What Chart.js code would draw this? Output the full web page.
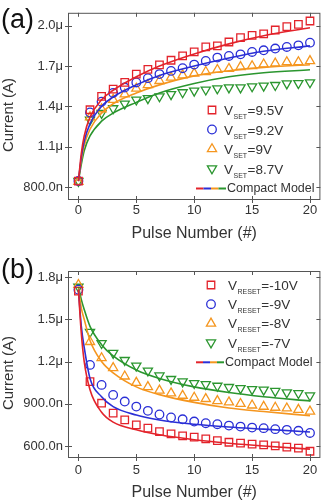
<!DOCTYPE html>
<html>
<head>
<meta charset="utf-8">
<script src="https://cdn.jsdelivr.net/npm/chart.js@4/dist/chart.umd.min.js"></script>
<style>
html, body { margin: 0; padding: 0; background: #fff; }
.panel { position: absolute; left: 0; width: 327px; }
#pa { top: 0; height: 250px; }
#pb { top: 250px; height: 252px; }
</style>
</head>
<body>
<div class="panel" id="pa"><canvas id="ca"></canvas></div>
<div class="panel" id="pb"><canvas id="cb"></canvas></div>
<script>
// pulse index for the measured points
const pulses = [0, 1, 2, 3, 4, 5, 6, 7, 8, 9, 10, 11, 12, 13, 14, 15, 16, 17, 18, 19, 20];
// x positions
const modelX = [0, 0.25, 0.5, 1, 2, 3, 5, 7, 10, 13, 16, 20];

// (a) SET, current in uA
const setLabels = ["=9.5V", "=9.2V", "=9V", "=8.7V"];
const setRed    = [0.845, 1.375, 1.474, 1.528, 1.578, 1.64, 1.676, 1.709, 1.743, 1.775, 1.805, 1.842, 1.85, 1.879, 1.911, 1.928, 1.94, 1.968, 1.993, 2.01, 2.035];
const setBlue   = [0.845, 1.355, 1.435, 1.50, 1.54, 1.578, 1.61, 1.64, 1.664, 1.684, 1.711, 1.738, 1.763, 1.775, 1.787, 1.805, 1.817, 1.83, 1.842, 1.854, 1.874];
const setOrange = [0.84, 1.32, 1.38, 1.45, 1.49, 1.533, 1.56, 1.59, 1.615, 1.632, 1.645, 1.657, 1.672, 1.68, 1.694, 1.70, 1.713, 1.72, 1.73, 1.73, 1.738];
const setGreen  = [0.845, 1.30, 1.35, 1.385, 1.42, 1.45, 1.46, 1.474, 1.49, 1.504, 1.516, 1.524, 1.533, 1.54, 1.54, 1.548, 1.553, 1.558, 1.57, 1.572, 1.578];
const setRedModel    = [0.845, 1.05, 1.18, 1.32, 1.45, 1.52, 1.62, 1.70, 1.79, 1.865, 1.925, 1.985];
const setBlueModel   = [0.845, 1.02, 1.14, 1.27, 1.40, 1.47, 1.56, 1.63, 1.70, 1.76, 1.81, 1.85];
const setOrangeModel = [0.845, 1.0, 1.11, 1.23, 1.35, 1.42, 1.50, 1.56, 1.627, 1.665, 1.69, 1.71];
const setGreenModel  = [0.845, 0.97, 1.07, 1.18, 1.29, 1.35, 1.43, 1.50, 1.57, 1.62, 1.65, 1.672];

// (b) RESET, current in uA
const resetLabels = ["=-10V", "=-9V", "=-8V", "=-7V"];
const resetRed    = [1.70, 1.058, 0.904, 0.833, 0.786, 0.75, 0.727, 0.703, 0.686, 0.672, 0.663, 0.651, 0.639, 0.627, 0.62, 0.613, 0.608, 0.601, 0.592, 0.585, 0.563];
const resetBlue   = [1.71, 1.176, 1.034, 0.963, 0.916, 0.88, 0.85, 0.824, 0.803, 0.79, 0.774, 0.762, 0.755, 0.745, 0.738, 0.731, 0.727, 0.72, 0.715, 0.708, 0.693];
const resetOrange = [1.745, 1.34, 1.225, 1.155, 1.095, 1.05, 1.02, 0.995, 0.975, 0.958, 0.944, 0.935, 0.92, 0.911, 0.90, 0.889, 0.88, 0.873, 0.868, 0.858, 0.846];
const resetGreen  = [1.73, 1.41, 1.33, 1.26, 1.21, 1.17, 1.135, 1.10, 1.075, 1.058, 1.046, 1.039, 1.027, 1.018, 1.01, 1.003, 0.999, 0.99, 0.98, 0.975, 0.958];
const resetRedModel    = [1.71, 1.40, 1.20, 1.00, 0.84, 0.77, 0.715, 0.68, 0.645, 0.62, 0.60, 0.578];
const resetBlueModel   = [1.71, 1.45, 1.30, 1.08, 0.95, 0.88, 0.82, 0.785, 0.755, 0.735, 0.72, 0.70];
const resetOrangeModel = [1.72, 1.58, 1.50, 1.35, 1.20, 1.12, 1.02, 0.965, 0.91, 0.87, 0.845, 0.815];
const resetGreenModel  = [1.73, 1.64, 1.57, 1.45, 1.32, 1.24, 1.14, 1.08, 1.02, 0.98, 0.95, 0.92];

// ticks
const xTicks = [0, 5, 10, 15, 20];
const yTicksA = [0.8, 1.1, 1.4, 1.7, 2.0];
const yTickLabelsA = ["800.0n", "1.1\u03bc", "1.4\u03bc", "1.7\u03bc", "2.0\u03bc"];
const yTicksB = [0.6, 0.9, 1.2, 1.5, 1.8];
const yTickLabelsB = ["600.0n", "900.0n", "1.2\u03bc", "1.5\u03bc", "1.8\u03bc"];

const RED = "#e3232b", BLUE = "#2a2fd6", ORANGE = "#f5961f", GREEN = "#2b962f";
const FONT = "'Liberation Sans', Arial, sans-serif";
const TXT = "#333";

function pts(xs, ys) {
    return xs.map((x, i) => ({ x: x, y: ys[i] }));
}

function markerSet(values, color, style, radius, rotation) {
    return {
        data: pts(pulses, values),
        showLine: false,
        pointStyle: style,
        pointRadius: radius,
        pointRotation: rotation || 0,
        pointBorderColor: color,
        borderColor: color,
        pointBackgroundColor: "rgba(0,0,0,0)",
        pointBorderWidth: 1.3,
    };
}

function modelSet(values, color) {
    return {
        data: pts(modelX, values),
        showLine: true,
        borderColor: color,
        borderWidth: 1.6,
        pointRadius: 0,
        cubicInterpolationMode: "monotone",
        fill: false,
    };
}

// frame, ticks, panel letter, y title and legend with subscripts
const panelDeco = {
    id: "panelDeco",
    afterDraw(chart, args, o) {
        const ctx = chart.ctx;
        const a = chart.chartArea;
        const x = chart.scales.x, y = chart.scales.y;
        ctx.save();
        ctx.strokeStyle = "#555";
        ctx.lineWidth = 1;
        ctx.strokeRect(a.left + 0.5, a.top + 0.5, a.right - a.left - 1, a.bottom - a.top - 1);
        ctx.beginPath();
        x.ticks.forEach(t => {
            const px = Math.round(x.getPixelForValue(t.value)) + 0.5;
            ctx.moveTo(px, a.bottom - 4); ctx.lineTo(px, a.bottom + 3);
            ctx.moveTo(px, a.top); ctx.lineTo(px, a.top + 4);
        });
        y.ticks.forEach(t => {
            const py = Math.round(y.getPixelForValue(t.value)) + 0.5;
            ctx.moveTo(a.left - 3, py); ctx.lineTo(a.left + 4, py);
            ctx.moveTo(a.right - 4, py); ctx.lineTo(a.right, py);
        });
        ctx.stroke();

        // panel letter
        ctx.fillStyle = "#111";
        ctx.font = "27px " + FONT;
        ctx.textBaseline = "middle";
        ctx.textAlign = "left";
        ctx.fillText(o.letter, 1, o.letterY);

        // y title
        ctx.save();
        ctx.translate(9, o.yTitleY);
        ctx.rotate(-Math.PI / 2);
        ctx.textAlign = "center";
        ctx.fillStyle = TXT;
        ctx.font = "15px " + FONT;
        ctx.fillText("Current (A)", 0, 0);
        ctx.restore();

        // legend
        const ds = chart.data.datasets.slice(4);
        ds.forEach((d, i) => {
            const cy = o.legendY0 + i * o.legendStep;
            ctx.strokeStyle = d.borderColor;
            ctx.fillStyle = "rgba(0,0,0,0)";
            ctx.lineWidth = 1.3;
            Chart.helpers.drawPoint(ctx, {
                pointStyle: d.pointStyle, radius: d.pointRadius,
                rotation: d.pointRotation, borderWidth: 1.3
            }, o.legendX, cy);
            ctx.fillStyle = TXT;
            ctx.textBaseline = "alphabetic";
            ctx.font = "13.5px " + FONT;
            let tx = o.textX;
            ctx.fillText("V", tx, cy + 5);
            tx += ctx.measureText("V").width + 0.5;
            ctx.font = "7px " + FONT;
            ctx.fillText(o.sub, tx, cy + 9);
            tx += ctx.measureText(o.sub).width + 0.5;
            ctx.font = "13.5px " + FONT;
            ctx.fillText(o.labels[i], tx, cy + 5);
        });
        const cy = o.legendY0 + 4 * o.legendStep;
        const cols = [RED, BLUE, ORANGE, GREEN];
        const seg = (o.lineX1 - o.lineX0) / 4;
        ctx.lineWidth = 2;
        cols.forEach((c, i) => {
            ctx.strokeStyle = c;
            ctx.beginPath();
            ctx.moveTo(o.lineX0 + i * seg, cy + 0.5);
            ctx.lineTo(o.lineX0 + (i + 1) * seg, cy + 0.5);
            ctx.stroke();
        });
        ctx.fillStyle = TXT;
        ctx.font = "12.5px " + FONT;
        ctx.textBaseline = "middle";
        ctx.fillText("Compact Model", o.lineX1 + 1, cy + 1);
        ctx.restore();
    }
};

function makeChart(id, datasets, yMin, yMax, yTicks, yTickLabels, padTop, xHeight, xTickPad, xTitlePad, deco) {
    return new Chart(document.getElementById(id), {
        type: "scatter",
        data: { datasets: datasets },
        options: {
            responsive: true,
            maintainAspectRatio: false,
            animation: false,
            layout: { padding: { top: padTop, right: 3, left: 0, bottom: 0 } },
            plugins: { legend: { display: false }, tooltip: { enabled: false }, panelDeco: deco },
            scales: {
                x: {
                    type: "linear", min: -0.9, max: 20.9,
                    grid: { display: false, drawTicks: false },
                    border: { display: false },
                    afterBuildTicks: s => { s.ticks = xTicks.map(v => ({ value: v })); },
                    afterFit: s => { s.height = xHeight; },
                    ticks: { padding: xTickPad, color: TXT, font: { family: FONT, size: 13 }, callback: v => String(v) },
                    title: { display: true, text: "Pulse Number (#)", color: TXT, font: { family: FONT, size: 16 }, padding: { top: 0, bottom: xTitlePad } }
                },
                y: {
                    type: "linear", min: yMin, max: yMax,
                    grid: { display: false, drawTicks: false },
                    border: { display: false },
                    afterBuildTicks: s => { s.ticks = yTicks.map(v => ({ value: v })); },
                    afterFit: s => { s.width = 68; },
                    ticks: { padding: 5, color: TXT, font: { family: FONT, size: 13 },
                        callback: v => yTickLabels[yTicks.indexOf(v)] }
                }
            }
        },
        plugins: [panelDeco]
    });
}

makeChart("ca", [
    modelSet(setRedModel, RED),
    modelSet(setBlueModel, BLUE),
    modelSet(setOrangeModel, ORANGE),
    modelSet(setGreenModel, GREEN),
    markerSet(setRed, RED, "rect", 5.3),
    markerSet(setBlue, BLUE, "circle", 4.3),
    markerSet(setOrange, ORANGE, "triangle", 5.3),
    markerSet(setGreen, GREEN, "triangle", 5.3, 180),
], 0.704, 2.096, yTicksA, yTickLabelsA, 12, 50, 3, 7, {
    letter: "(a)", letterY: 21, yTitleY: 115, legendX: 212, legendY0: 110, legendStep: 19.5,
    textX: 224, sub: "SET", labels: setLabels, lineX0: 196, lineX1: 226
});

makeChart("cb", [
    modelSet(resetRedModel, RED),
    modelSet(resetBlueModel, BLUE),
    modelSet(resetOrangeModel, ORANGE),
    modelSet(resetGreenModel, GREEN),
    markerSet(resetRed, RED, "rect", 5.3),
    markerSet(resetBlue, BLUE, "circle", 4.3),
    markerSet(resetOrange, ORANGE, "triangle", 5.3),
    markerSet(resetGreen, GREEN, "triangle", 5.3, 180),
], 0.515, 1.843, yTicksB, yTickLabelsB, 21, 44, 5, 0, {
    letter: "(b)", letterY: 21, yTitleY: 123, legendX: 211, legendY0: 35, legendStep: 19.2,
    textX: 228, sub: "RESET", labels: resetLabels, lineX0: 196, lineX1: 224
});
</script>
</body>
</html>
